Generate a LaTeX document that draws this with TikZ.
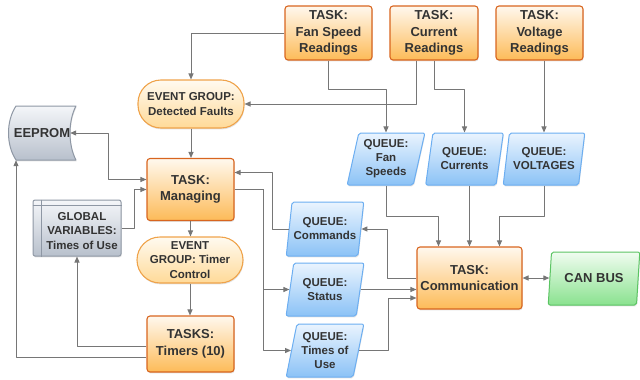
\documentclass[tikz,border=0pt]{standalone}
\usepackage{fontspec}
\setmainfont{Liberation Sans}
\usepackage{xcolor}
\usepackage{tikz}
\usetikzlibrary{arrows.meta,calc,shapes.geometric,shadows}

\definecolor{taskline}{HTML}{D8651F}
\definecolor{tasktop}{HTML}{FFF8EE}
\definecolor{taskbot}{HTML}{FDBB58}
\definecolor{evline}{HTML}{EFA34B}
\definecolor{evtop}{HTML}{FFFAF0}
\definecolor{evbot}{HTML}{FFDA98}
\definecolor{qline}{HTML}{6CAEF1}
\definecolor{qtop}{HTML}{EAF4FE}
\definecolor{qbot}{HTML}{8BC2F6}
\definecolor{canline}{HTML}{5BC463}
\definecolor{cantop}{HTML}{F0FCF0}
\definecolor{canbot}{HTML}{8AE28F}
\definecolor{memline}{HTML}{8E97A4}
\definecolor{memtop}{HTML}{F4F6F9}
\definecolor{membot}{HTML}{B8C0CC}
\definecolor{wirecol}{HTML}{767676}
\definecolor{ink}{HTML}{333333}

\begin{document}
\begin{tikzpicture}[x=1pt,y=-1pt,line join=round,
  >={Triangle[length=6pt,width=5pt]},
  shad/.style={drop shadow={shadow xshift=0.6pt,shadow yshift=-1.4pt,opacity=0.22}},
  box/.style={align=center,text=ink,shad},
  task/.style={box,rectangle,rounded corners=3pt,draw=taskline,line width=1.1pt,
    top color=tasktop,bottom color=taskbot,minimum width=87pt,inner sep=2pt,
    font=\fontsize{13}{16.5}\selectfont\bfseries},
  event/.style={box,rectangle,rounded corners=23pt,draw=evline,line width=1.1pt,
    top color=evtop,bottom color=evbot,minimum width=106pt,inner sep=1pt,
    font=\fontsize{11.5}{14.5}\selectfont\bfseries},
  queue/.style={box,trapezium,trapezium left angle=76,trapezium right angle=104,
    trapezium stretches=true,rounded corners=2pt,draw=qline,line width=1pt,
    top color=qtop,bottom color=qbot,minimum width=78pt,minimum height=52pt,
    inner sep=0pt,font=\fontsize{11.5}{14}\selectfont\bfseries},
  mem/.style={box,draw=memline,line width=1pt,top color=memtop,bottom color=membot},
  memtext/.style={align=center,text=ink,inner sep=0pt,font=\fontsize{11.5}{14.3}\selectfont\bfseries},
  wire/.style={draw=wirecol,line width=1pt}]
  \useasboundingbox (0,0) rectangle (640,380);

  % reading tasks
  \node[task,minimum height=54pt] (fanread) at (328.5,33) {TASK:\\Fan Speed\\Readings};
  \node[task,minimum width=88pt,minimum height=54pt] (curread) at (434,33) {TASK:\\Current\\Readings};
  \node[task,minimum height=54pt] (voltread) at (539.5,33) {TASK:\\Voltage\\Readings};

  % queues from readings
  \node[queue] (qfan) at (386,159) {QUEUE:\\Fan\\Speeds};
  \node[queue] (qcur) at (464.5,159) {QUEUE:\\Currents};
  \node[queue,minimum width=82pt] (qvolt) at (544,159) {QUEUE:\\VOLTAGES};

  % event groups
  \node[event,minimum height=48pt] (faults) at (191,104) {EVENT GROUP:\\Detected Faults};
  \node[event,minimum height=46pt] (timerctl) at (190,260) {EVENT\\GROUP: Timer\\Control};

  % main tasks
  \node[task,minimum height=62pt] (mgr) at (190.5,189.5) {TASK:\\Managing};
  \node[task,minimum height=56pt] (timers) at (190.5,344) {TASKS:\\Timers (10)};
  \node[task,minimum width=105pt,minimum height=62pt] (comm) at (469.5,278) {TASK:\\Communication};

  % queues around the managing task
  \node[queue,minimum height=54pt] (qcmd) at (325,229) {QUEUE:\\Commands};
  \node[queue,minimum height=53pt] (qstat) at (325,289.5) {QUEUE:\\Status};
  \node[queue,minimum height=53pt] (qtime) at (325,350.5) {QUEUE:\\Times of\\Use};

  % bus
  \node[queue,minimum width=92pt,minimum height=53pt,draw=canline,top color=cantop,
    bottom color=canbot,font=\fontsize{13}{16.5}\selectfont\bfseries] (can) at (594,278.5) {CAN BUS};

  % stored data
  \begin{scope}[shift={(42,133)}]
    \path[mem] (-26,-27) -- (34,-27) .. controls (26,-12) and (26,12) .. (34,27)
      -- (-26,27) .. controls (-36,12) and (-36,-12) .. (-26,-27) -- cycle;
  \end{scope}
  \node[memtext,minimum width=68pt,minimum height=54pt,font=\fontsize{13}{16.5}\selectfont\bfseries] (eeprom) at (42,133) {EEPROM};

  % internal storage
  \node[mem,rounded corners=2pt,minimum width=88pt,minimum height=56pt] (gvar) at (77,228) {};
  \draw[memline,line width=0.8pt] ([xshift=9pt]gvar.north west) -- ([xshift=9pt]gvar.south west);
  \draw[memline,line width=0.8pt] ([yshift=-6pt]gvar.north west) -- ([yshift=-6pt]gvar.north east);
  \node[memtext] (gvartext) at (82,231) {GLOBAL\\VARIABLES:\\Times of Use};

  % connectors
  \draw[wire,->] (fanread.west) -| (faults.north);
  \draw[wire,->] (fanread.south) -- ++(0,29) -| (qfan.center |- qfan.north);
  \draw[wire,->] ([xshift=-18pt]curread.south) |- (faults.east);
  \draw[wire,->] (curread.south) -- ++(0,29) -| (qcur.center |- qcur.north);
  \draw[wire,->] (qvolt.center |- voltread.south) -- (qvolt.center |- qvolt.north);
  \draw[wire,->] (faults.south) -- (faults.south |- mgr.north);
  \draw[wire,<->] ([xshift=-6pt]eeprom.east) -- ++(38,0) |- ([yshift=10pt]mgr.west);
  \draw[wire,->] (gvar.east) -- ++(13,0) |- (mgr.west);
  \draw[wire,->] (mgr.south) -- (mgr.south |- timerctl.north);
  \draw[wire,->] (timerctl.south) -- (timerctl.south |- timers.north);
  \draw[wire,->] ([yshift=-2pt]timers.west) -| (gvar.south);
  \draw[wire,->] ([yshift=-13pt]timers.west) -| ([xshift=-26pt]eeprom.south);
  \draw[wire,->] (qcmd.west) -- ++(-16,0) |- ([yshift=17pt]mgr.east);
  \draw[wire,->] (mgr.east) -- ++(29,0) |- (qstat.west);
  \draw[wire,->] (mgr.east) -- ++(29,0) |- (qtime.west);
  \draw[wire,->] (comm.west) -- ++(-29,0) |- (qcmd.east);
  \draw[wire,->] (qstat.east) -- (qstat.east -| comm.west);
  \draw[wire,->] (qtime.east) -- ++(30,0) |- ([yshift=-20pt]comm.west);
  \draw[wire,->] (qfan.center |- qfan.south) -- ++(0,31) -| ([xshift=-31pt]comm.north);
  \draw[wire,->] (comm.north |- qcur.south) -- (comm.north);
  \draw[wire,->] (qvolt.center |- qvolt.south) -- ++(0,31) -| ([xshift=30pt]comm.north);
  \draw[wire,<->] (comm.east) -- (comm.east -| can.west);
\end{tikzpicture}
\end{document}
